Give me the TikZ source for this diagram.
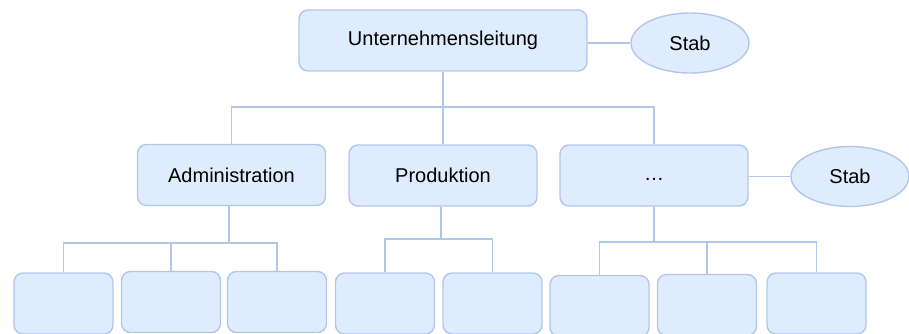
\documentclass[tikz,border=0pt]{standalone}
\usepackage{fontspec}
\setmainfont{Liberation Sans}
\usepackage{xcolor}
\usepackage{tikz}
\usetikzlibrary{positioning, shapes.geometric, calc}
\definecolor{orgfill}{RGB}{223,236,253}
\definecolor{orgline}{RGB}{178,198,234}

\begin{document}
\begin{tikzpicture}[
    x=1pt, y=-1pt,
    font=\fontsize{20}{22}\selectfont,
    unit/.style={rectangle, rounded corners=9pt, draw=orgline, fill=orgfill, line width=1.4pt, inner sep=0pt, minimum height=61pt},
    bigunit/.style={unit, minimum width=188pt},
    leaf/.style={unit, minimum width=99pt},
    stab/.style={ellipse, draw=orgline, fill=orgfill, line width=1.4pt, inner sep=0pt, minimum width=118pt, minimum height=60pt},
    link/.style={draw=orgline, line width=1.4pt}
]
\useasboundingbox (0,0) rectangle (909,334);
\node[unit, minimum width=288pt] (head) at (443,40.5) {Unternehmensleitung};
\node[stab] (stab1) at (690,43) {Stab};
\node[bigunit] (admin) at (231.5,175) {Administration};
\node[bigunit] (prod) at (443,175.5) {Produktion};
\node[bigunit, text height=9pt, text depth=0pt] (dots) at (654,175.5) {\dots};
\node[stab] (stab2) at (850,176.5) {Stab};
% bottom row
\node[leaf] (a1) at (63.5,303.5) {};
\node[leaf] (a2) at (171,302) {};
\node[leaf] (a3) at (277,302) {};
\node[leaf] (p1) at (385,303.5) {};
\node[leaf] (p2) at (492.5,303.5) {};
\node[leaf] (d1) at (599.5,306) {};
\node[leaf] (d2) at (707,305) {};
\node[leaf] (d3) at (816.5,303.5) {};

\coordinate (hbus) at (443,107);
\coordinate (abus) at (229,243);
\coordinate (pbus) at (441,239);
\coordinate (dbus) at (654,242);

\draw[link] (head.east |- stab1.west) -- (stab1);
\draw[link] (dots.east |- stab2.west) -- (stab2);
\draw[link] (head.south) -- (prod.north);
\draw[link] (admin.north) |- (hbus) -| (dots.north);

\draw[link] (abus |- admin.south) -- (abus);
\draw[link] (a1.north) |- (abus) -| (a3.north);
\draw[link] (a2.north) -- (a2.north |- abus);

\draw[link] (pbus |- prod.south) -- (pbus);
\draw[link] (p1.north) |- (pbus) -| (p2.north);

\draw[link] (dots.south) -- (dbus);
\draw[link] (d1.north) |- (dbus) -| (d3.north);
\draw[link] (d2.north) -- (d2.north |- dbus);
\end{tikzpicture}
\end{document}
